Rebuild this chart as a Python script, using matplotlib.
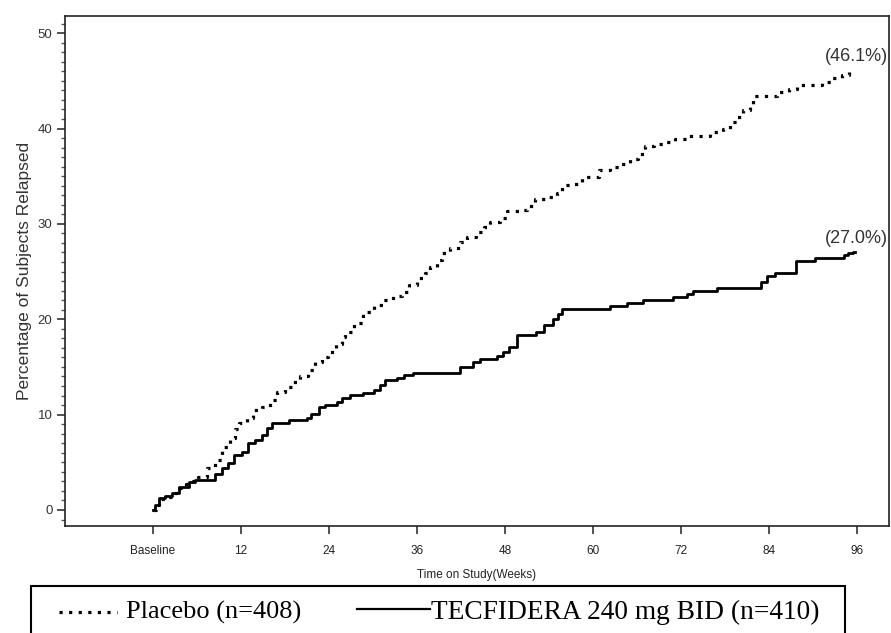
import matplotlib
matplotlib.use("Agg")
import matplotlib.pyplot as plt
from matplotlib.patches import Rectangle
from matplotlib.lines import Line2D
from matplotlib.ticker import MultipleLocator

# ---- data ----
tec_weeks = [0, 0.3, 0.8, 1.7, 2.6, 3.5, 4.9, 5.8, 8.5, 9.4, 10.3, 11.0, 12.1, 13.0, 13.9,
             14.9, 15.5, 16.2, 18.5, 21.0, 21.6, 22.6, 23.5, 25.1, 25.8, 26.9, 28.7, 30.1,
             31.0, 31.7, 33.3, 34.2, 35.5, 41.9, 43.7, 44.6, 46.9, 47.8, 48.5, 49.6, 52.2,
             53.3, 54.6, 55.3, 55.8, 62.4, 64.6, 66.9, 71.0, 72.8, 73.7, 76.9, 82.9, 83.7,
             84.9, 87.7, 90.3, 94.2, 94.8, 95.5, 95.8]
tec_pct = [0, 0.5, 1.3, 1.5, 1.75, 2.4, 2.9, 3.1, 3.8, 4.4, 4.9, 5.8, 6.1, 7.0, 7.3,
           7.9, 8.6, 9.15, 9.4, 9.6, 10.1, 10.8, 11.0, 11.35, 11.7, 12.05, 12.3, 12.6,
           13.1, 13.6, 13.8, 14.15, 14.4, 14.95, 15.5, 15.8, 16.1, 16.6, 17.1, 18.3, 18.7,
           19.4, 20.0, 20.6, 21.1, 21.4, 21.7, 22.0, 22.35, 22.6, 22.95, 23.3, 23.9, 24.5,
           24.9, 26.1, 26.4, 26.7, 26.9, 27.0, 27.0]

pbo_weeks = [0, 0.4, 0.8, 1.7, 2.6, 3.5, 4.5, 5.5, 6.2, 7.4, 8.5, 9.4, 10.5, 11.2, 11.7,
             12.8, 13.7, 14.9, 16.0, 16.9, 18.0, 19.0, 20.1, 21.2, 22.1, 23.0, 23.9, 24.9,
             25.8, 26.2, 27.4, 28.7, 30.1, 31.4, 32.8, 34.0, 34.9, 36.0, 37.1, 37.8, 38.7,
             39.4, 40.5, 41.9, 42.8, 44.0, 45.1, 46.0, 47.4, 48.3, 49.9, 51.0, 52.1, 53.7,
             55.1, 55.8, 57.4, 58.5, 60.8, 62.4, 63.7, 65.1, 66.2, 67.1, 68.3, 69.9, 71.2,
             72.8, 76.0, 77.8, 78.7, 79.6, 80.5, 81.5, 81.9, 85.1, 86.7, 87.8, 91.2, 92.6,
             94.0, 94.9, 95.4]
pbo_pct = [0, 0.5, 1.1, 1.4, 1.75, 2.3, 2.7, 3.0, 3.5, 4.4, 5.2, 6.6, 7.5, 8.5, 9.1,
           9.6, 10.5, 10.8, 11.5, 12.4, 12.9, 13.4, 14.0, 14.7, 15.5, 16.0, 16.6, 17.4,
           18.1, 18.7, 19.6, 20.8, 21.5, 22.0, 22.4, 22.9, 23.6, 24.3, 24.8, 25.5, 26.2,
           26.9, 27.5, 28.1, 28.6, 29.2, 29.7, 30.2, 30.6, 31.4, 31.5, 31.9, 32.6, 32.8,
           33.2, 34.1, 34.2, 34.9, 35.6, 36.0, 36.3, 36.8, 37.3, 38.2, 38.4, 38.6, 38.9,
           39.2, 39.65, 40.0, 40.7, 41.2, 41.9, 42.6, 43.4, 43.85, 44.1, 44.6, 44.9, 45.25,
           45.6, 46.1, 46.1]

x_ticks = [0, 12, 24, 36, 48, 60, 72, 84, 96]
x_tick_labels = ["Baseline", "12", "24", "36", "48", "60", "72", "84", "96"]
y_ticks = [0, 10, 20, 30, 40, 50]
pbo_label = "Placebo (n=408)"
tec_label = "TECFIDERA 240 mg BID (n=410)"
pbo_end_text = "(46.1%)"
tec_end_text = "(27.0%)"

# ---- figure ----
W, H = 891, 633
fig = plt.figure(figsize=(W / 100, H / 100), dpi=100)
fig.patch.set_facecolor("white")

ax = fig.add_axes([65 / W, 1 - 526 / H, (889 - 65) / W, (526 - 16) / H])

dot_style = (0, (1, 2))
ax.step(pbo_weeks, pbo_pct, where="post", color="black", lw=2.3, linestyle=dot_style)
ax.step(tec_weeks, tec_pct, where="post", color="black", lw=2.0, linestyle="-")

ax.set_xlim(-12, 100.4)
ax.set_ylim(-1.68, 51.8)

ax.set_xticks(x_ticks)
ax.set_xticklabels(x_tick_labels, fontsize=8.5, family="Liberation Sans", color="#222222")
ax.set_yticks(y_ticks)
ax.set_yticklabels([str(v) for v in y_ticks], fontsize=9.5, family="Liberation Sans",
                   color="#333333")
ax.yaxis.set_minor_locator(MultipleLocator(1))
ax.tick_params(axis="x", which="major", direction="out", length=6, width=1.2,
               color="#333333", pad=8)
ax.tick_params(axis="y", which="major", direction="out", length=6, width=1.2,
               color="#333333", pad=3)
ax.tick_params(axis="y", which="minor", direction="out", length=3, width=1.0,
               color="#555555")

for side in ["left", "bottom", "top", "right"]:
    ax.spines[side].set_linewidth(1.2)
    ax.spines[side].set_color("#222222")

ax.set_ylabel("Percentage of Subjects Relapsed", fontsize=12.5, family="Liberation Sans",
              color="#333333", labelpad=4)
ax.set_xlabel("Time on Study(Weeks)", fontsize=8.5, family="Liberation Sans",
              color="#222222", labelpad=8)

# end annotations
ax.text(100.2, pbo_pct[-1] + 1.5, pbo_end_text, ha="right", va="center", fontsize=13,
        family="Liberation Sans", color="#333333")
ax.text(100.2, tec_pct[-1] + 1.5, tec_end_text, ha="right", va="center", fontsize=13,
        family="Liberation Sans", color="#333333")

# legend box at the bottom
fig.patches.append(Rectangle((31 / W, -10 / H), (845 - 31) / W, (H - 586 + 10) / H,
                             transform=fig.transFigure, fill=False, edgecolor="black",
                             linewidth=1.5))
ly = 1 - 612 / H
fig.lines.append(Line2D([59 / W, 117 / W], [ly, ly], transform=fig.transFigure,
                        color="black", lw=2.3, linestyle=dot_style))
fig.text(126 / W, ly, pbo_label, ha="left", va="center", fontsize=19,
         family="Liberation Serif", color="black")
fig.lines.append(Line2D([357 / W, 430 / W], [ly + 0.004, ly + 0.004],
                        transform=fig.transFigure, color="black", lw=1.6))
fig.text(431 / W, ly, tec_label, ha="left", va="center", fontsize=19.7,
         family="Liberation Serif", color="black")

fig.savefig("out.png", dpi=100, facecolor="white")
